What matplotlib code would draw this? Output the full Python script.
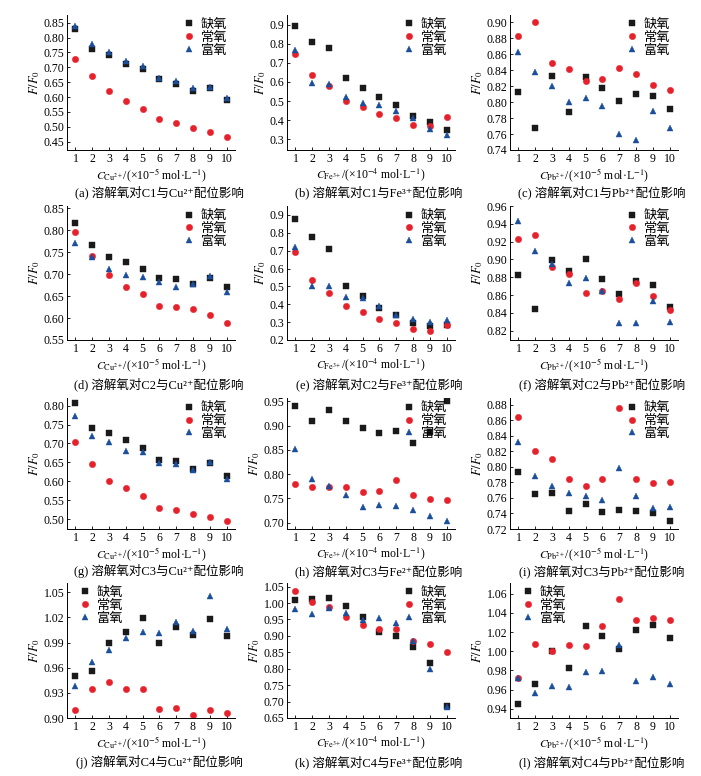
import matplotlib
matplotlib.use('Agg')
import matplotlib.pyplot as plt
from matplotlib.ticker import FixedLocator, FormatStrFormatter

plt.rcParams['font.family'] = ['Liberation Serif', 'Noto Sans CJK SC', 'DejaVu Sans']
plt.rcParams['mathtext.fontset'] = 'stix'

conc = list(range(1, 11))
series_names = ['缺氧', '常氧', '富氧']

# (a) C1 - Cu2+
a_low = [0.830, 0.760, 0.740, 0.710, 0.695, 0.660, 0.645, 0.620, 0.630, 0.590]
a_norm = [0.728, 0.670, 0.620, 0.588, 0.560, 0.527, 0.513, 0.497, 0.483, 0.467]
a_rich = [0.840, 0.780, 0.752, 0.722, 0.705, 0.665, 0.655, 0.630, 0.633, 0.597]
# (b) C1 - Fe3+
b_low = [0.890, 0.810, 0.775, 0.620, 0.570, 0.520, 0.480, 0.420, 0.390, 0.350]
b_norm = [0.745, 0.635, 0.580, 0.500, 0.470, 0.430, 0.410, 0.375, 0.370, 0.415]
b_rich = [0.765, 0.595, 0.590, 0.520, 0.490, 0.480, 0.450, 0.410, 0.355, 0.320]
# (c) C1 - Pb2+
c_low = [0.813, 0.768, 0.833, 0.788, 0.832, 0.818, 0.801, 0.810, 0.808, 0.791]
c_norm = [0.883, 0.900, 0.849, 0.842, 0.827, 0.829, 0.843, 0.835, 0.821, 0.815]
c_rich = [0.863, 0.838, 0.820, 0.800, 0.805, 0.795, 0.760, 0.753, 0.789, 0.767]
# (d) C2 - Cu2+
d_low = [0.816, 0.766, 0.740, 0.728, 0.711, 0.692, 0.689, 0.677, 0.691, 0.671]
d_norm = [0.795, 0.742, 0.698, 0.671, 0.654, 0.627, 0.625, 0.620, 0.608, 0.589]
d_rich = [0.771, 0.739, 0.712, 0.697, 0.694, 0.681, 0.671, 0.677, 0.695, 0.659]
# (e) C2 - Fe3+
e_low = [0.880, 0.775, 0.710, 0.500, 0.445, 0.380, 0.340, 0.295, 0.280, 0.285]
e_norm = [0.690, 0.535, 0.465, 0.390, 0.355, 0.320, 0.295, 0.260, 0.250, 0.285]
e_rich = [0.720, 0.505, 0.500, 0.440, 0.435, 0.390, 0.340, 0.320, 0.300, 0.310]
# (f) C2 - Pb2+
f_low = [0.883, 0.844, 0.899, 0.887, 0.900, 0.878, 0.861, 0.876, 0.871, 0.847]
f_norm = [0.923, 0.927, 0.891, 0.884, 0.862, 0.864, 0.855, 0.873, 0.859, 0.843]
f_rich = [0.943, 0.910, 0.895, 0.874, 0.879, 0.864, 0.829, 0.829, 0.853, 0.830]
# (g) C3 - Cu2+
g_low = [0.806, 0.742, 0.727, 0.710, 0.688, 0.656, 0.654, 0.632, 0.649, 0.614]
g_norm = [0.704, 0.647, 0.601, 0.581, 0.561, 0.530, 0.524, 0.514, 0.507, 0.494]
g_rich = [0.773, 0.719, 0.703, 0.681, 0.678, 0.649, 0.645, 0.629, 0.651, 0.605]
# (h) C3 - Fe
h_low = [0.940, 0.910, 0.932, 0.909, 0.895, 0.885, 0.889, 0.864, 0.887, 0.950]
h_norm = [0.779, 0.774, 0.773, 0.774, 0.764, 0.765, 0.789, 0.758, 0.748, 0.746]
h_rich = [0.852, 0.791, 0.775, 0.758, 0.732, 0.737, 0.735, 0.727, 0.713, 0.704]
# (i) C3 - Pb2+
i_low = [0.793, 0.765, 0.767, 0.743, 0.752, 0.742, 0.745, 0.743, 0.740, 0.730]
i_norm = [0.865, 0.821, 0.810, 0.784, 0.776, 0.784, 0.876, 0.784, 0.779, 0.781]
i_rich = [0.832, 0.789, 0.776, 0.766, 0.762, 0.757, 0.799, 0.762, 0.747, 0.749]
# (j) C4 - Cu2+
j_low = [0.950, 0.956, 0.989, 1.003, 1.019, 0.990, 1.008, 0.999, 1.018, 0.998]
j_norm = [0.910, 0.934, 0.943, 0.935, 0.934, 0.911, 0.912, 0.904, 0.909, 0.906]
j_rich = [0.938, 0.967, 0.981, 0.995, 1.003, 1.001, 1.014, 1.004, 1.046, 1.006]
# (k) C4 - Fe3+
k_low = [1.010, 1.012, 1.016, 0.990, 0.958, 0.913, 0.899, 0.865, 0.817, 0.688]
k_norm = [1.037, 1.003, 0.987, 0.957, 0.934, 0.922, 0.920, 0.884, 0.875, 0.852]
k_rich = [0.981, 0.968, 0.986, 0.971, 0.948, 0.955, 0.938, 0.883, 0.800, 0.685]
# (l) C4 - Pb2+
l_low = [0.945, 0.966, 1.000, 0.983, 1.026, 1.016, 1.002, 1.022, 1.027, 1.014]
l_norm = [0.972, 1.008, 1.000, 1.007, 1.005, 1.026, 1.054, 1.032, 1.035, 1.033]
l_rich = [0.972, 0.957, 0.964, 0.963, 0.978, 0.979, 1.006, 0.969, 0.973, 0.966]

ytick_a = [0.45, 0.50, 0.55, 0.60, 0.65, 0.70, 0.75, 0.80, 0.85]
ytick_b = [0.3, 0.4, 0.5, 0.6, 0.7, 0.8, 0.9]
ytick_c = [0.74, 0.76, 0.78, 0.80, 0.82, 0.84, 0.86, 0.88, 0.90]
ytick_d = [0.55, 0.60, 0.65, 0.70, 0.75, 0.80, 0.85]
ytick_e = [0.2, 0.3, 0.4, 0.5, 0.6, 0.7, 0.8, 0.9]
ytick_f = [0.82, 0.84, 0.86, 0.88, 0.90, 0.92, 0.94, 0.96]
ytick_g = [0.50, 0.55, 0.60, 0.65, 0.70, 0.75, 0.80]
ytick_h = [0.70, 0.75, 0.80, 0.85, 0.90, 0.95]
ytick_i = [0.72, 0.74, 0.76, 0.78, 0.80, 0.82, 0.84, 0.86, 0.88]
ytick_j = [0.90, 0.93, 0.96, 0.99, 1.02, 1.05]
ytick_k = [0.65, 0.70, 0.75, 0.80, 0.85, 0.90, 0.95, 1.00, 1.05]
ytick_l = [0.94, 0.96, 0.98, 1.00, 1.02, 1.04, 1.06]

xl_cu = r'$C_{\mathrm{Cu}^{2+}}$/(×10$^{-5}$ mol·L$^{-1}$)'
xl_fe = r'$C_{\mathrm{Fe}^{3+}}$/(×10$^{-4}$ mol·L$^{-1}$)'
xl_pb = r'$C_{\mathrm{Pb}^{2+}}$/(×10$^{-5}$ mol·L$^{-1}$)'

panels = [
    (a_low, a_norm, a_rich, (0.422, 0.876), ytick_a, '%.2f', xl_cu, '(a) 溶解氧对C1与Cu²⁺配位影响', 'right'),
    (b_low, b_norm, b_rich, (0.244, 0.950), ytick_b, '%.1f', xl_fe, '(b) 溶解氧对C1与Fe³⁺配位影响', 'right'),
    (c_low, c_norm, c_rich, (0.740, 0.909), ytick_c, '%.2f', xl_pb, '(c) 溶解氧对C1与Pb²⁺配位影响', 'right'),
    (d_low, d_norm, d_rich, (0.550, 0.855), ytick_d, '%.2f', xl_cu, '(d) 溶解氧对C2与Cu²⁺配位影响', 'right'),
    (e_low, e_norm, e_rich, (0.200, 0.950), ytick_e, '%.1f', xl_fe, '(e) 溶解氧对C2与Fe³⁺配位影响', 'right'),
    (f_low, f_norm, f_rich, (0.8095, 0.960), ytick_f, '%.2f', xl_pb, '(f) 溶解氧对C2与Pb²⁺配位影响', 'right'),
    (g_low, g_norm, g_rich, (0.474, 0.820), ytick_g, '%.2f', xl_cu, '(g) 溶解氧对C3与Cu²⁺配位影响', 'right'),
    (h_low, h_norm, h_rich, (0.687, 0.957), ytick_h, '%.2f', xl_fe, '(h) 溶解氧对C3与Fe²⁺配位影响', 'right'),
    (i_low, i_norm, i_rich, (0.720, 0.889), ytick_i, '%.2f', xl_pb, '(i) 溶解氧对C3与Pb²⁺配位影响', 'right'),
    (j_low, j_norm, j_rich, (0.900, 1.061), ytick_j, '%.2f', xl_cu, '(j) 溶解氧对C4与Cu²⁺配位影响', 'left'),
    (k_low, k_norm, k_rich, (0.650, 1.061), ytick_k, '%.2f', xl_fe, '(k) 溶解氧对C4与Fe³⁺配位影响', 'right'),
    (l_low, l_norm, l_rich, (0.9306, 1.071), ytick_l, '%.2f', xl_pb, '(l) 溶解氧对C4与Pb²⁺配位影响', 'left'),
]

W, H = 701, 776
fig = plt.figure(figsize=(W / 100, H / 100), dpi=100)
lefts = [67, 287, 510]
rows = [(15, 150), (206, 340), (398, 529), (583, 718)]
cap_y = [192, 384, 571, 762]
AW = 168

colors = ['#1a1a1a', '#e5212b', '#1b4f9c']
markers = ['s', 'o', '^']
msizes = [4.0, 4.6, 4.8]
FS = 8.5

for idx, (low, norm, rich, ylim, yt, fmt, xl, cap, legpos) in enumerate(panels):
    r, c = divmod(idx, 3)
    top, bot = rows[r]
    ax = fig.add_axes([lefts[c] / W, (H - bot) / H, AW / W, (bot - top) / H])
    for ser, col, mk, ms, name in zip((low, norm, rich), colors, markers, msizes, series_names):
        ax.plot(conc, ser, linestyle='none', marker=mk, color=col, markersize=ms,
                markeredgewidth=0.3, markeredgecolor=col, label=name)
    ax.set_xlim(0.5, 10.5)
    ax.set_ylim(*ylim)
    ax.xaxis.set_major_locator(FixedLocator(conc))
    ax.yaxis.set_major_locator(FixedLocator(yt))
    ax.yaxis.set_major_formatter(FormatStrFormatter(fmt))
    ax.tick_params(direction='in', length=2.5, width=0.6, labelsize=FS, pad=2)
    ax.spines['top'].set_visible(False)
    ax.spines['right'].set_visible(False)
    for s in ('left', 'bottom'):
        ax.spines[s].set_linewidth(0.7)
    ax.set_xlabel(xl, fontsize=FS, labelpad=1)
    ax.set_ylabel(r'$F/F_0$', fontsize=FS + 0.5, labelpad=1)
    if legpos == 'right':
        ax.legend(loc='upper right', bbox_to_anchor=(1.0, 1.03), frameon=False,
                  fontsize=FS + 1, handlelength=1.0, handletextpad=0.4,
                  labelspacing=0.05, borderaxespad=0.2)
    else:
        ax.legend(loc='upper left', bbox_to_anchor=(0.02, 1.03), frameon=False,
                  fontsize=FS + 1, handlelength=1.0, handletextpad=0.4,
                  labelspacing=0.05, borderaxespad=0.2)
    xc = (lefts[c] + AW / 2 + 8) / W
    fig.text(xc, (H - cap_y[r]) / H, cap, ha='center', va='center', fontsize=FS + 0.5)

fig.savefig('out.png', dpi=100, facecolor='white')
